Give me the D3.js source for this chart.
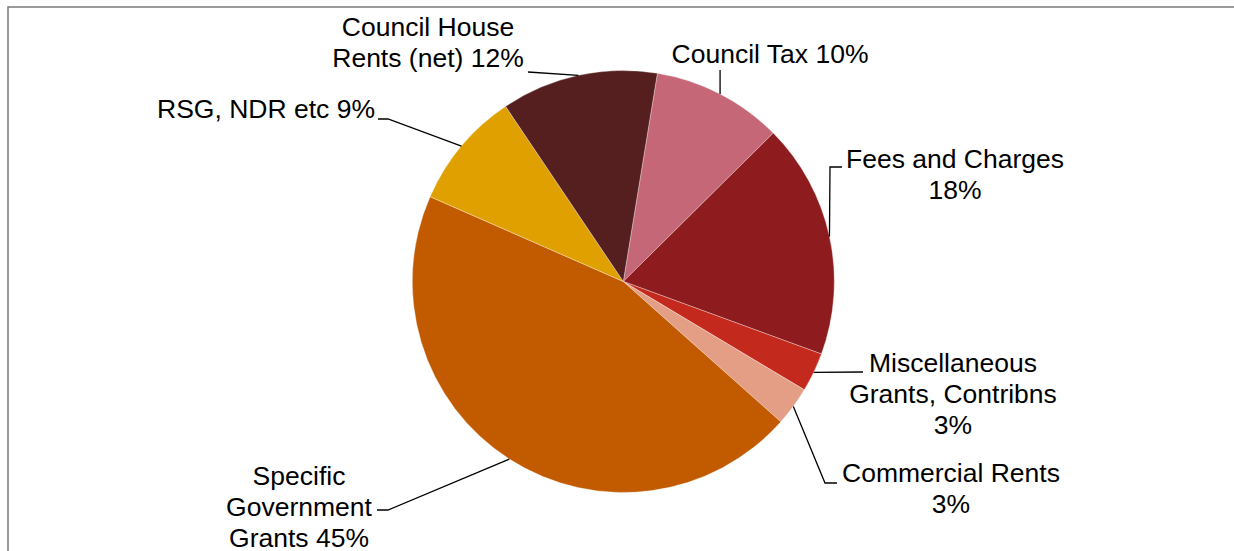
<!DOCTYPE html>
<html>
<head>
<meta charset="utf-8">
<script src="https://cdn.jsdelivr.net/npm/d3@7"></script>
<style>
  html, body { margin: 0; padding: 0; background: #fff; }
  svg { display: block; }
  text { font-family: "Liberation Sans", Arial, sans-serif; fill: #000; }
</style>
</head>
<body>
<script>
// Income sources (percent of total), in drawing order clockwise
const categories = [
  "Council Tax",
  "Fees and Charges",
  "Miscellaneous Grants, Contribns",
  "Commercial Rents",
  "Specific Government Grants",
  "RSG, NDR etc",
  "Council House Rents (net)"
];
const values = [10, 18, 3, 3, 45, 9, 12];
const colors = ["#C66777", "#8E1B1D", "#C4291D", "#E49E86", "#C25B00", "#E0A000", "#541F1E"];

// Label text lines (the last line carries the percentage)
const labelLines = [
  ["Council Tax 10%"],
  ["Fees and Charges", "18%"],
  ["Miscellaneous", "Grants, Contribns", "3%"],
  ["Commercial Rents", "3%"],
  ["Specific", "Government", "Grants 45%"],
  ["RSG, NDR etc 9%"],
  ["Council House", "Rents (net) 12%"]
];

const W = 1234, H = 551;
const cx = 623.3, cy = 281.5, R = 211;
const startDeg = 9.3;
const fontSize = 26.5, lineH = 31;

// Label placement: text centre x, first baseline y, and leader elbow points
const labelLayout = [
  { x: 770, y: 63,  leader: a => [[a[0], 70]] },
  { x: 955, y: 168, leader: a => [[830, 167], [842, 167]] },
  { x: 953, y: 372, leader: a => [[863, 372]] },
  { x: 951, y: 482, leader: a => [[825, 483], [837, 483]] },
  { x: 299, y: 485, leader: a => [[388, 510], [377, 510]] },
  { x: 266, y: 118, leader: a => [[388, 119], [378, 119]] },
  { x: 428, y: 36,  leader: a => [[528, 72]] }
];

const svg = d3.select("body").append("svg")
  .attr("width", W).attr("height", H);

// Frame (top and left edges)
svg.append("path")
  .attr("d", `M8,${H} L8,7 L${W},7`)
  .attr("fill", "none")
  .attr("stroke", "#7a7a7a")
  .attr("stroke-width", 1.5);

const data = categories.map((c, i) => ({ name: c, value: values[i], i }));

const pie = d3.pie()
  .sort(null)
  .value(d => d.value)
  .startAngle(startDeg * Math.PI / 180)
  .endAngle(startDeg * Math.PI / 180 + 2 * Math.PI);

const arc = d3.arc().innerRadius(0).outerRadius(R);
const arcs = pie(data);

const g = svg.append("g").attr("transform", `translate(${cx},${cy})`);

g.selectAll("path.slice")
  .data(arcs)
  .join("path")
  .attr("class", "slice")
  .attr("d", arc)
  .attr("fill", d => colors[d.data.i])
  .attr("stroke", "rgba(255,255,255,0.55)")
  .attr("stroke-width", 0.6);

// Leader lines from the slice's mid-angle on the rim to the label
const line = d3.line();
arcs.forEach(d => {
  const mid = (d.startAngle + d.endAngle) / 2;
  const p = [cx + R * Math.sin(mid), cy - R * Math.cos(mid)];
  const pts = [p].concat(labelLayout[d.data.i].leader(p));
  svg.append("path")
    .attr("d", line(pts))
    .attr("fill", "none")
    .attr("stroke", "#000")
    .attr("stroke-width", 1.3);
});

// Labels
labelLines.forEach((lines, i) => {
  const L = labelLayout[i];
  const t = svg.append("text")
    .attr("text-anchor", "middle")
    .attr("font-size", fontSize);
  lines.forEach((s, k) => {
    t.append("tspan")
      .attr("x", L.x)
      .attr("y", L.y + k * lineH)
      .text(s);
  });
});
</script>
</body>
</html>
